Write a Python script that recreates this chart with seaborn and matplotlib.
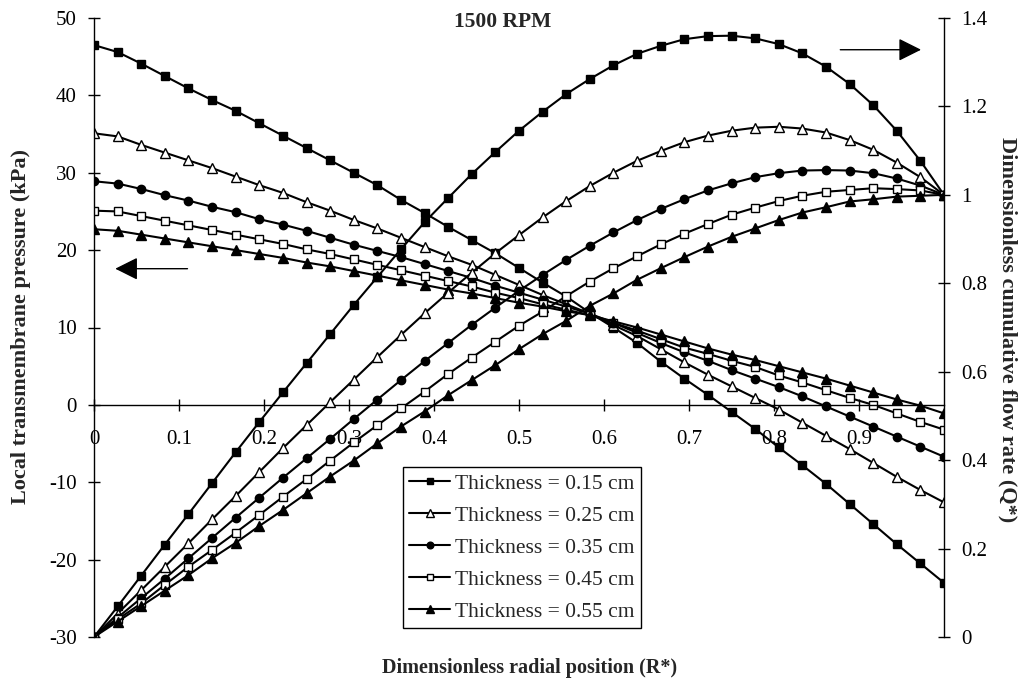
import numpy as np
import pandas as pd
import matplotlib
matplotlib.use("Agg")
import matplotlib.pyplot as plt
from matplotlib.lines import Line2D
import seaborn as sns

# ---------------- data ----------------
r_star = [0, 0.0278, 0.0556, 0.0833, 0.1111, 0.1389, 0.1667, 0.1944, 0.2222, 0.25,
          0.2778, 0.3056, 0.3333, 0.3611, 0.3889, 0.4167, 0.4444, 0.4722, 0.5, 0.5278,
          0.5556, 0.5833, 0.6111, 0.6389, 0.6667, 0.6944, 0.7222, 0.75, 0.7778, 0.8056,
          0.8333, 0.8611, 0.8889, 0.9167, 0.9444, 0.9722, 1.0]

thickness_labels = ["Thickness = 0.15 cm", "Thickness = 0.25 cm", "Thickness = 0.35 cm",
                    "Thickness = 0.45 cm", "Thickness = 0.55 cm"]

# local transmembrane pressure (kPa), left axis
p_015 = [46.5, 45.6, 44.1, 42.5, 40.9, 39.4, 38.0, 36.4, 34.8, 33.2, 31.6, 30.0, 28.4, 26.5,
         24.8, 23.0, 21.3, 19.6, 17.7, 15.8, 14.0, 11.9, 10.0, 8.0, 5.6, 3.4, 1.3, -0.9,
         -3.1, -5.5, -7.8, -10.2, -12.8, -15.4, -18.0, -20.5, -23.0]
p_025 = [35.1, 34.7, 33.6, 32.6, 31.6, 30.6, 29.5, 28.4, 27.4, 26.2, 25.1, 23.9, 22.8, 21.6,
         20.4, 19.2, 18.1, 16.8, 15.5, 14.2, 13.0, 11.8, 10.3, 8.9, 7.2, 5.5, 3.9, 2.4,
         0.9, -0.6, -2.3, -4.0, -5.7, -7.5, -9.3, -11.0, -12.6]
p_035 = [28.9, 28.6, 27.9, 27.1, 26.4, 25.6, 24.9, 24.0, 23.3, 22.5, 21.6, 20.7, 19.9, 19.1,
         18.2, 17.3, 16.4, 15.4, 14.5, 13.6, 12.7, 11.8, 10.6, 9.3, 8.0, 6.8, 5.7, 4.5,
         3.4, 2.3, 1.1, -0.2, -1.5, -2.8, -4.1, -5.4, -6.7]
p_045 = [25.1, 25.0, 24.4, 23.8, 23.2, 22.6, 22.0, 21.4, 20.8, 20.1, 19.5, 18.8, 18.1, 17.4,
         16.7, 16.0, 15.3, 14.5, 13.8, 13.0, 12.3, 11.6, 10.6, 9.6, 8.5, 7.4, 6.6, 5.7,
         4.9, 3.8, 2.9, 1.9, 0.9, 0.0, -1.1, -2.2, -3.2]
p_055 = [22.7, 22.5, 22.0, 21.5, 21.0, 20.5, 20.0, 19.5, 19.0, 18.4, 17.9, 17.3, 16.7, 16.1,
         15.5, 14.9, 14.4, 13.8, 13.2, 12.7, 12.1, 11.6, 10.8, 10.0, 9.1, 8.2, 7.3, 6.5,
         5.8, 5.0, 4.2, 3.4, 2.5, 1.6, 0.7, -0.1, -1.1]

# dimensionless cumulative flow rate (Q*), right axis
q_015 = [0, 0.069, 0.139, 0.209, 0.278, 0.348, 0.418, 0.486, 0.553, 0.619, 0.685, 0.751,
         0.814, 0.877, 0.938, 0.993, 1.047, 1.097, 1.145, 1.188, 1.228, 1.262, 1.293, 1.319,
         1.337, 1.352, 1.359, 1.360, 1.354, 1.341, 1.320, 1.290, 1.251, 1.203, 1.145, 1.077, 1.0]
q_025 = [0, 0.053, 0.106, 0.159, 0.212, 0.266, 0.319, 0.373, 0.427, 0.479, 0.531, 0.582,
         0.633, 0.683, 0.732, 0.779, 0.824, 0.868, 0.909, 0.949, 0.986, 1.020, 1.050, 1.077,
         1.099, 1.119, 1.134, 1.145, 1.152, 1.154, 1.150, 1.141, 1.124, 1.102, 1.073, 1.040, 1.0]
q_035 = [0, 0.044, 0.088, 0.132, 0.178, 0.224, 0.270, 0.315, 0.360, 0.404, 0.448, 0.493,
         0.537, 0.581, 0.624, 0.665, 0.706, 0.745, 0.783, 0.819, 0.853, 0.885, 0.915, 0.943,
         0.968, 0.990, 1.010, 1.026, 1.040, 1.049, 1.055, 1.056, 1.055, 1.049, 1.037, 1.021, 1.0]
q_045 = [0, 0.040, 0.076, 0.118, 0.159, 0.197, 0.236, 0.276, 0.317, 0.357, 0.399, 0.440,
         0.479, 0.517, 0.555, 0.595, 0.632, 0.668, 0.704, 0.736, 0.771, 0.804, 0.834, 0.861,
         0.888, 0.912, 0.934, 0.955, 0.971, 0.986, 0.998, 1.007, 1.011, 1.015, 1.013, 1.010, 1.0]
q_055 = [0, 0.035, 0.070, 0.105, 0.140, 0.178, 0.213, 0.251, 0.287, 0.325, 0.363, 0.399,
         0.438, 0.476, 0.510, 0.547, 0.581, 0.615, 0.651, 0.685, 0.715, 0.749, 0.777, 0.808,
         0.834, 0.859, 0.883, 0.905, 0.924, 0.943, 0.960, 0.972, 0.985, 0.990, 0.996, 0.998, 1.0]

x_ticks = [0, 0.1, 0.2, 0.3, 0.4, 0.5, 0.6, 0.7, 0.8, 0.9]
x_ticklabels = ["0", "0.1", "0.2", "0.3", "0.4", "0.5", "0.6", "0.7", "0.8", "0.9"]
left_ticks = [-30, -20, -10, 0, 10, 20, 30, 40, 50]
right_ticks = [0, 0.2, 0.4, 0.6, 0.8, 1.0, 1.2, 1.4]
right_ticklabels = ["0", "0.2", "0.4", "0.6", "0.8", "1", "1.2", "1.4"]

# ---------------- style ----------------
sns.set_style("white")
plt.rcParams["font.family"] = ["Liberation Serif", "DejaVu Serif"]

styles = [
    dict(marker="s", mfc="black"),
    dict(marker="^", mfc="white"),
    dict(marker="o", mfc="black"),
    dict(marker="s", mfc="white"),
    dict(marker="^", mfc="black"),
]
msizes = [6.0, 6.5, 6.0, 5.8, 6.5]

fig = plt.figure(figsize=(10.27, 6.90), dpi=100)
ax = fig.add_axes([94 / 1027, 53 / 690, 850 / 1027, 619 / 690])
ax2 = ax.twinx()

pressures = [p_015, p_025, p_035, p_045, p_055]
flows = [q_015, q_025, q_035, q_045, q_055]

for lab, pv, qv, st, ms in zip(thickness_labels, pressures, flows, styles, msizes):
    df_p = pd.DataFrame({"R": r_star, "P": pv})
    df_q = pd.DataFrame({"R": r_star, "Q": qv})
    sns.lineplot(data=df_p, x="R", y="P", ax=ax, color="black", lw=1.5,
                 marker=st["marker"], markersize=ms, markerfacecolor=st["mfc"],
                 markeredgecolor="black", markeredgewidth=1.0, legend=False)
    sns.lineplot(data=df_q, x="R", y="Q", ax=ax2, color="black", lw=1.5,
                 marker=st["marker"], markersize=ms, markerfacecolor=st["mfc"],
                 markeredgecolor="black", markeredgewidth=1.0, legend=False)

ax.set_xlim(0, 1)
ax.set_ylim(-30, 50)
ax2.set_ylim(0, 1.4)

# spines
ax.spines["top"].set_visible(False)
ax.spines["right"].set_visible(False)
ax.spines["bottom"].set_position(("data", 0))
for s in ["left", "bottom"]:
    ax.spines[s].set_color("black")
    ax.spines[s].set_linewidth(1.0)
for s in ["top", "bottom", "left"]:
    ax2.spines[s].set_visible(False)
ax2.spines["right"].set_color("black")
ax2.spines["right"].set_linewidth(1.0)

ax.set_xticks(x_ticks)
ax.set_xticklabels(x_ticklabels)
ax.set_yticks(left_ticks)
ax.set_yticklabels([str(t) for t in left_ticks])
ax2.set_yticks(right_ticks)
ax2.set_yticklabels(right_ticklabels)

ax.tick_params(axis="x", direction="inout", length=8.6, width=1.0, pad=14,
               labelsize=15, colors="black", bottom=True)
ax.tick_params(axis="y", direction="inout", length=8.6, width=1.0, pad=8,
               labelsize=15, colors="black", left=True)
ax2.tick_params(axis="y", direction="inout", length=8.6, width=1.0, pad=8,
                labelsize=15, colors="black", right=True)

ax.set_xlabel("")
ax.set_ylabel("")
ax2.set_ylabel("")

fig.text(530 / 1027, 1 - 668 / 690, "Dimensionless radial position (R*)",
         ha="center", va="center", fontsize=14.5, fontweight="bold")
fig.text(21 / 1027, 1 - 327 / 690, "Local transmembrane pressure (kPa)",
         ha="center", va="center", rotation=90, fontsize=16, fontweight="bold")
fig.text(1008 / 1027, 1 - 330 / 690, "Dimensionless cumulative flow rate (Q*)",
         ha="center", va="center", rotation=-90, fontsize=16, fontweight="bold")

ax.text(0.481, 0.9935, "1500 RPM", transform=ax.transAxes, ha="center", va="center",
        fontsize=15.5, fontweight="bold")

# arrows indicating axis association
arrow_kw = dict(arrowstyle="-|>,head_length=0.7,head_width=0.35", color="black",
                lw=1.0, mutation_scale=20, shrinkA=0, shrinkB=0)
ax.annotate("", xy=(0.025, 17.6), xytext=(0.11, 17.6), arrowprops=arrow_kw)
ax.annotate("", xy=(0.973, 45.9), xytext=(0.878, 45.9), arrowprops=arrow_kw)

# legend
handles = [Line2D([0], [0], color="black", lw=1.5, marker=st["marker"],
                  markersize=ms * 0.8, markerfacecolor=st["mfc"],
                  markeredgecolor="black", markeredgewidth=1.0)
           for st, ms in zip(styles, msizes)]
leg = ax2.legend(handles, thickness_labels, loc="lower left",
                 bbox_to_anchor=(0.3635, 0.0145), borderaxespad=0, frameon=True,
                 fancybox=False, edgecolor="black", framealpha=1, fontsize=15.5,
                 handlelength=1.9, handletextpad=0.2, labelspacing=0.55,
                 borderpad=0.3)
leg.get_frame().set_linewidth(1.0)

fig.savefig("out.png", dpi=100)
